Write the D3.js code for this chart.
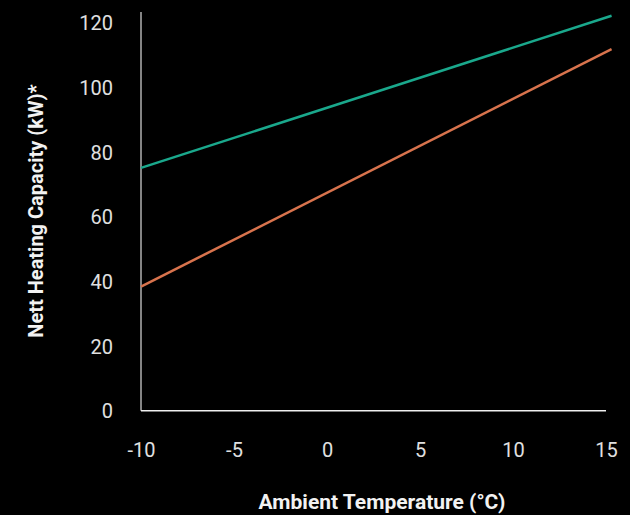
<!DOCTYPE html>
<html>
<head>
<meta charset="utf-8">
<script src="https://cdn.jsdelivr.net/npm/d3@7"></script>
<style>
  html, body { margin: 0; padding: 0; background: #000; }
  .tick text { font-family: Roboto, sans-serif; fill: #e0e0e0; }
  .axistitle { font-family: Roboto, sans-serif; font-weight: bold; fill: #f2f2f2; }
</style>
</head>
<body>
<div id="chart"></div>
<script>
// values
const temps = [-10, 15.3];
const upperCapacity = [75.1, 122.1];
const lowerCapacity = [38.4, 111.8];
const xTicks = [-10, -5, 0, 5, 10, 15];
const yTicks = [0, 20, 40, 60, 80, 100, 120];

const svgWidth = 630;
const svgHeight = 515;

const svg = d3.select('#chart')
            .append('svg')
            .attr('width', svgWidth)
            .attr('height', svgHeight)
            .style('background', '#000');

const xScale = d3.scaleLinear().domain([-10, 15]).range([141, 606]);
const yScale = d3.scaleLinear().domain([0, 120]).range([410.8, 22.6]);

// y axis
const yAxis = svg.append('g')
    .attr('transform', 'translate(141,0)')
    .call(d3.axisLeft(yScale).tickValues(yTicks).tickSize(0).tickPadding(28));
yAxis.select('.domain').remove();
yAxis.selectAll('text').attr('font-size', 20).attr('dy', '0.35em');
svg.append('line')
    .attr('x1', 141).attr('x2', 141)
    .attr('y1', 12).attr('y2', yScale(0))
    .attr('stroke', '#b0b0b0').attr('stroke-width', 1.5);

// x axis, plain hyphen for negatives like the original
const xAxis = svg.append('g')
    .attr('transform', `translate(0,${yScale(0)})`)
    .call(d3.axisBottom(xScale).tickValues(xTicks).tickSize(0).tickPadding(32.5)
            .tickFormat(d => String(d)));
xAxis.select('.domain').remove();
xAxis.selectAll('text').attr('font-size', 20).attr('dy', '0.71em');
svg.append('line')
    .attr('x1', 141).attr('x2', xScale(15))
    .attr('y1', yScale(0)).attr('y2', yScale(0))
    .attr('stroke', '#f0f0f0').attr('stroke-width', 1.5);

const line = d3.line()
    .x((d, i) => xScale(temps[i]))
    .y(d => yScale(d));

svg.append('path').datum(upperCapacity)
    .attr('d', line)
    .attr('fill', 'none')
    .attr('stroke', '#1aa88c')
    .attr('stroke-width', 2.5);

svg.append('path').datum(lowerCapacity)
    .attr('d', line)
    .attr('fill', 'none')
    .attr('stroke', '#d8734d')
    .attr('stroke-width', 2.5);

svg.append('text')
    .attr('class', 'axistitle')
    .attr('x', 382).attr('y', 509)
    .attr('text-anchor', 'middle')
    .attr('font-size', 21)
    .text('Ambient Temperature (°C)');

svg.append('text')
    .attr('class', 'axistitle')
    .attr('transform', 'translate(43,211) rotate(-90)')
    .attr('text-anchor', 'middle')
    .attr('font-size', 20)
    .text('Nett Heating Capacity (kW)*');
</script>
</body>
</html>
